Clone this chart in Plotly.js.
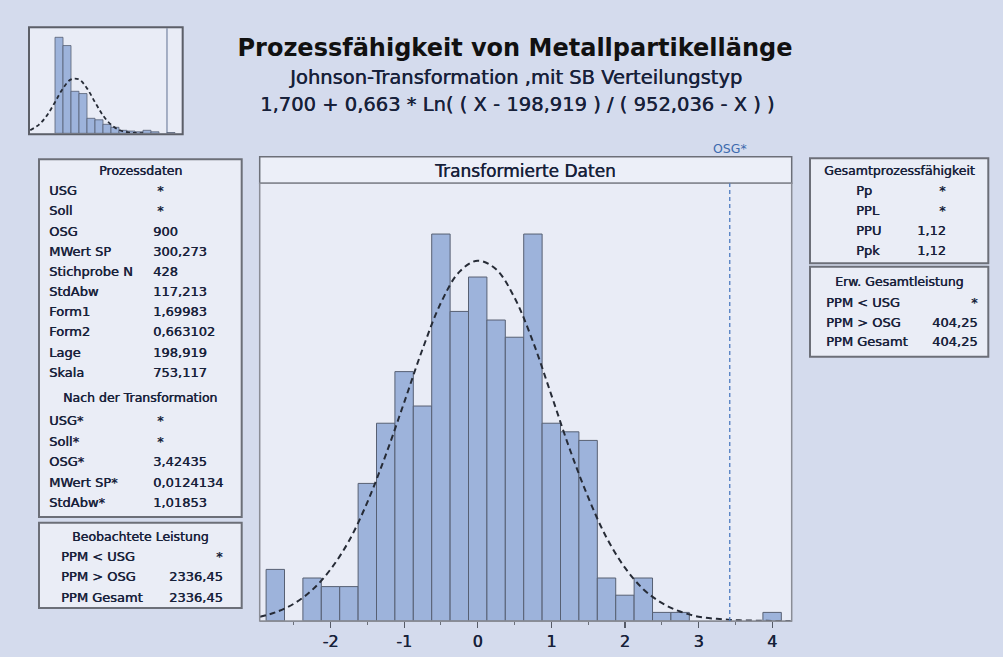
<!DOCTYPE html>
<html>
<head>
<meta charset="utf-8">
<script src="https://cdn.plot.ly/plotly-3.0.1.min.js"></script>
<style>html,body{margin:0;padding:0;background:#d4dbed;}#chart{width:1003px;height:657px;}</style>
</head>
<body>
<div id="chart"></div>
<script>
// ---------- DATA ----------
// Transformed data histogram (bin width 0.25)
const binCenters = [-2.75, -2.25, -2.0, -1.75, -1.5, -1.25, -1.0, -0.75, -0.5, -0.25, 0, 0.25, 0.5, 0.75, 1.0, 1.25, 1.5, 1.75, 2.0, 2.25, 2.5, 2.75, 4.0];
const binCounts  = [6, 5, 4, 4, 16, 23, 29, 25, 45, 36, 40, 35, 33, 45, 23, 22, 21, 5, 3, 5, 1, 1, 1];
const binWidth = 0.25;
// Fitted curve (counts)
const curveX = [-2.96, -2.75, -2.5, -2.25, -2.0, -1.75, -1.5, -1.25, -1.0, -0.75, -0.5, -0.25, 0, 0.25, 0.5, 0.75, 1.0, 1.25, 1.5, 1.75, 2.0, 2.25, 2.5, 2.75, 3.0, 3.25, 3.5, 3.75, 4.0, 4.25];
const curveY = [0.5, 1.0, 2.0, 3.6, 6.0, 9.3, 13.8, 19.3, 25.4, 31.6, 37.0, 40.6, 41.9, 40.9, 37.6, 32.5, 26.3, 20.0, 14.4, 9.7, 6.2, 3.7, 2.1, 1.1, 0.5, 0.25, 0.1, 0.04, 0.01, 0.0];
const OSG_T = 3.42435;
const xTicks = [-2, -1, 0, 1, 2, 3, 4];

// Original data mini histogram (bin width 50)
const miniCenters = [225, 275, 325, 375, 425, 475, 525, 575, 625, 675, 725, 775, 825, 925];
const miniCounts  = [128, 117, 56, 53, 20, 18, 12, 8, 4, 3, 2, 4, 2, 1];
const miniBinWidth = 50;
const miniCurveX = [45, 100, 150, 200, 250, 300, 350, 400, 450, 500, 550, 600, 650, 700, 750];
const miniCurveY = [4.2, 11.6, 23.9, 41.5, 59.9, 71.9, 71.9, 59.9, 41.5, 23.9, 11.6, 4.6, 1.5, 0.4, 0.1];
const OSG = 900;

// Texts
const titleText = "Prozessfähigkeit von Metallpartikellänge";
const subtitleText = "Johnson-Transformation ,mit SB Verteilungstyp";
const formulaText = "1,700 + 0,663 * Ln( ( X - 198,919 ) / ( 952,036 - X ) )";
const panelTitle = "Transformierte Daten";

const prozessHeader = "Prozessdaten";
const prozessLabels = ["USG", "Soll", "OSG", "MWert SP", "Stichprobe N", "StdAbw", "Form1", "Form2", "Lage", "Skala"];
const prozessValues = ["*", "*", "900", "300,273", "428", "117,213", "1,69983", "0,663102", "198,919", "753,117"];
const transHeader = "Nach der Transformation";
const transLabels = ["USG*", "Soll*", "OSG*", "MWert SP*", "StdAbw*"];
const transValues = ["*", "*", "3,42435", "0,0124134", "1,01853"];
const beobHeader = "Beobachtete Leistung";
const beobLabels = ["PPM < USG", "PPM > OSG", "PPM Gesamt"];
const beobValues = ["*", "2336,45", "2336,45"];
const gesHeader = "Gesamtprozessfähigkeit";
const gesLabels = ["Pp", "PPL", "PPU", "Ppk"];
const gesValues = ["*", "*", "1,12", "1,12"];
const erwHeader = "Erw. Gesamtleistung";
const erwLabels = ["PPM < USG", "PPM > OSG", "PPM Gesamt"];
const erwValues = ["*", "404,25", "404,25"];

// ---------- LAYOUT HELPERS ----------
const W = 1003, H = 657;
const X = px => px / W;
const Y = py => 1 - py / H;
const FONT = "DejaVu Sans";
const TXT = "#17213a";
const SHADOW = "0.45px 0px 0px #17213a";
const BORDER = "#6c6f78";
const BOXFILL = "#eaedf6";
const BAR = "#9db3db";
const BARLINE = "#576073";

// main plot geometry (px)
const mL = 259.7, mR = 791.7, mTop = 183.3, mBot = 621, hdrTop = 156.7;
// mini plot geometry (px)
const nL = 30, nR = 181.7, nTop = 28.3, nBot = 133.3;

const annotations = [];
const shapes = [];

function txt(text, px, py, size, anchor, color) {
  annotations.push({
    text: text, xref: "paper", yref: "paper", x: X(px), y: Y(py),
    xanchor: anchor || "left", yanchor: "middle", showarrow: false,
    font: {family: FONT, size: size, color: color || TXT, shadow: color ? "none" : SHADOW}, borderpad: 0
  });
}
function box(x0, y0, x1, y1) {
  shapes.push({type: "rect", xref: "paper", yref: "paper", x0: X(x0), x1: X(x1), y0: Y(y1), y1: Y(y0),
    line: {color: BORDER, width: 2}, fillcolor: BOXFILL, layer: "below"});
}

// Titles
txt(subtitleText, 515, 77, 19.5, "center");
txt(formulaText, 517, 104, 19.5, "center");

// Left box 1
box(39, 159.3, 241.7, 517);
txt(prozessHeader, 140, 171, 12.5, "center");
prozessLabels.forEach((l, i) => {
  const y = 190.7 + i * 20.18;
  txt(l, 48, y, 13);
  txt(prozessValues[i], prozessValues[i] === "*" ? 156 : 152, y, 13);
});
txt(transHeader, 140, 397, 12.5, "center");
transLabels.forEach((l, i) => {
  const y = 420.7 + i * 20.5;
  txt(l, 48, y, 13);
  txt(transValues[i], transValues[i] === "*" ? 156 : 152, y, 13);
});
// Left box 2
box(39, 522.7, 241.7, 608);
txt(beobHeader, 140, 536.7, 12.5, "center");
beobLabels.forEach((l, i) => {
  const y = 556 + i * 20.5;
  txt(l, 60, y, 13);
  txt(beobValues[i], 224, y, 13, "right");
});
// Right box 1
box(810, 158.3, 988.3, 263.3);
txt(gesHeader, 899, 170.7, 12.5, "center");
gesLabels.forEach((l, i) => {
  const y = 190.7 + i * 20.1;
  txt(l, 855, y, 13);
  txt(gesValues[i], 947, y, 13, "right");
});
// Right box 2
box(810, 266.7, 988.3, 356.7);
txt(erwHeader, 899, 281, 12.5, "center");
erwLabels.forEach((l, i) => {
  const y = 302.5 + i * 19.6;
  txt(l, 825, y, 13);
  txt(erwValues[i], 979, y, 13, "right");
});

// Main panel header + frame
shapes.push({type: "rect", xref: "paper", yref: "paper", x0: X(mL), x1: X(mR), y0: Y(mTop), y1: Y(hdrTop),
  line: {color: BORDER, width: 1.5}, fillcolor: "#eceff8", layer: "below"});
shapes.push({type: "rect", xref: "paper", yref: "paper", x0: X(mL), x1: X(mR), y0: Y(mBot), y1: Y(mTop),
  line: {color: "#8a8d96", width: 1.5}, fillcolor: "rgba(0,0,0,0)", layer: "above"});
txt(panelTitle, 525, 170.5, 17, "center");

// OSG* line + label
shapes.push({type: "line", xref: "x", yref: "paper", x0: OSG_T, x1: OSG_T, y0: Y(mBot), y1: Y(mTop),
  line: {color: "#4f7cc0", width: 1.3, dash: "4px,3px"}, layer: "above"});
annotations.push({text: "OSG*", xref: "x", yref: "paper", x: OSG_T, y: Y(148), xanchor: "center", yanchor: "middle",
  showarrow: false, font: {family: FONT, size: 12.5, color: "#3d6aae"}});

// Mini frame + OSG line
shapes.push({type: "rect", xref: "paper", yref: "paper", x0: X(nL - 1), x1: X(nR + 1), y0: Y(nBot + 1), y1: Y(nTop - 1),
  line: {color: "#5c5f68", width: 2}, fillcolor: "rgba(0,0,0,0)", layer: "above"});
shapes.push({type: "line", xref: "x2", yref: "paper", x0: OSG, x1: OSG, y0: Y(nBot), y1: Y(nTop),
  line: {color: "#8d99b3", width: 1.5}, layer: "below"});

// ---------- TRACES ----------
const traces = [
  {type: "bar", x: binCenters, y: binCounts, width: binWidth, xaxis: "x", yaxis: "y",
   marker: {color: BAR, line: {color: BARLINE, width: 1}}, hoverinfo: "x+y"},
  {type: "scatter", mode: "lines", x: curveX, y: curveY, xaxis: "x", yaxis: "y",
   line: {color: "#262b36", width: 2, dash: "6px,4px", shape: "spline"}, hoverinfo: "skip"},
  {type: "bar", x: miniCenters, y: miniCounts, width: miniBinWidth, xaxis: "x2", yaxis: "y2",
   marker: {color: BAR, line: {color: BARLINE, width: 0.8}}, hoverinfo: "x+y"},
  {type: "scatter", mode: "lines", x: miniCurveX, y: miniCurveY, xaxis: "x2", yaxis: "y2",
   line: {color: "#262b36", width: 1.8, dash: "4px,3px", shape: "spline"}, hoverinfo: "skip"}
];

const layout = {
  width: W, height: H,
  margin: {l: 0, r: 0, t: 0, b: 0, pad: 0},
  paper_bgcolor: "#d4dbed",
  plot_bgcolor: "#e9ecf6",
  showlegend: false,
  bargap: 0,
  title: {text: "<b>" + titleText + "</b>", x: 515 / W, y: Y(48), xanchor: "center", yanchor: "middle",
          font: {family: FONT, size: 24, color: "#111"}},
  xaxis: {domain: [X(mL), X(mR)], range: [-2.962, 4.266], tickvals: xTicks, ticktext: xTicks.map(String),
          ticks: "outside", ticklen: 6, tickwidth: 1.2, tickcolor: "#555a66",
          minor: {ticks: "outside", ticklen: 3, tickwidth: 1, tickcolor: "#6a6f7a", tickvals: [-2.5, -1.5, -0.5, 0.5, 1.5, 2.5, 3.5], showgrid: false},
          showline: true, linecolor: "#8a8d96", linewidth: 1.2, showgrid: false, zeroline: false,
          tickfont: {family: FONT, size: 16, color: TXT, shadow: SHADOW}, fixedrange: true, anchor: "y"},
  yaxis: {domain: [Y(mBot), Y(mTop)], range: [0, 50.9], showticklabels: false, ticks: "", showgrid: false,
          zeroline: false, showline: false, fixedrange: true, anchor: "x"},
  xaxis2: {domain: [X(nL), X(nR)], range: [43.75, 992], showticklabels: false, ticks: "", showgrid: false,
           zeroline: false, showline: false, fixedrange: true, anchor: "y2"},
  yaxis2: {domain: [Y(nBot), Y(nTop)], range: [0, 140], showticklabels: false, ticks: "", showgrid: false,
           zeroline: false, showline: false, fixedrange: true, anchor: "x2"},
  shapes: shapes,
  annotations: annotations
};

Plotly.newPlot("chart", traces, layout, {displayModeBar: false, staticPlot: true});
</script>
</body>
</html>
